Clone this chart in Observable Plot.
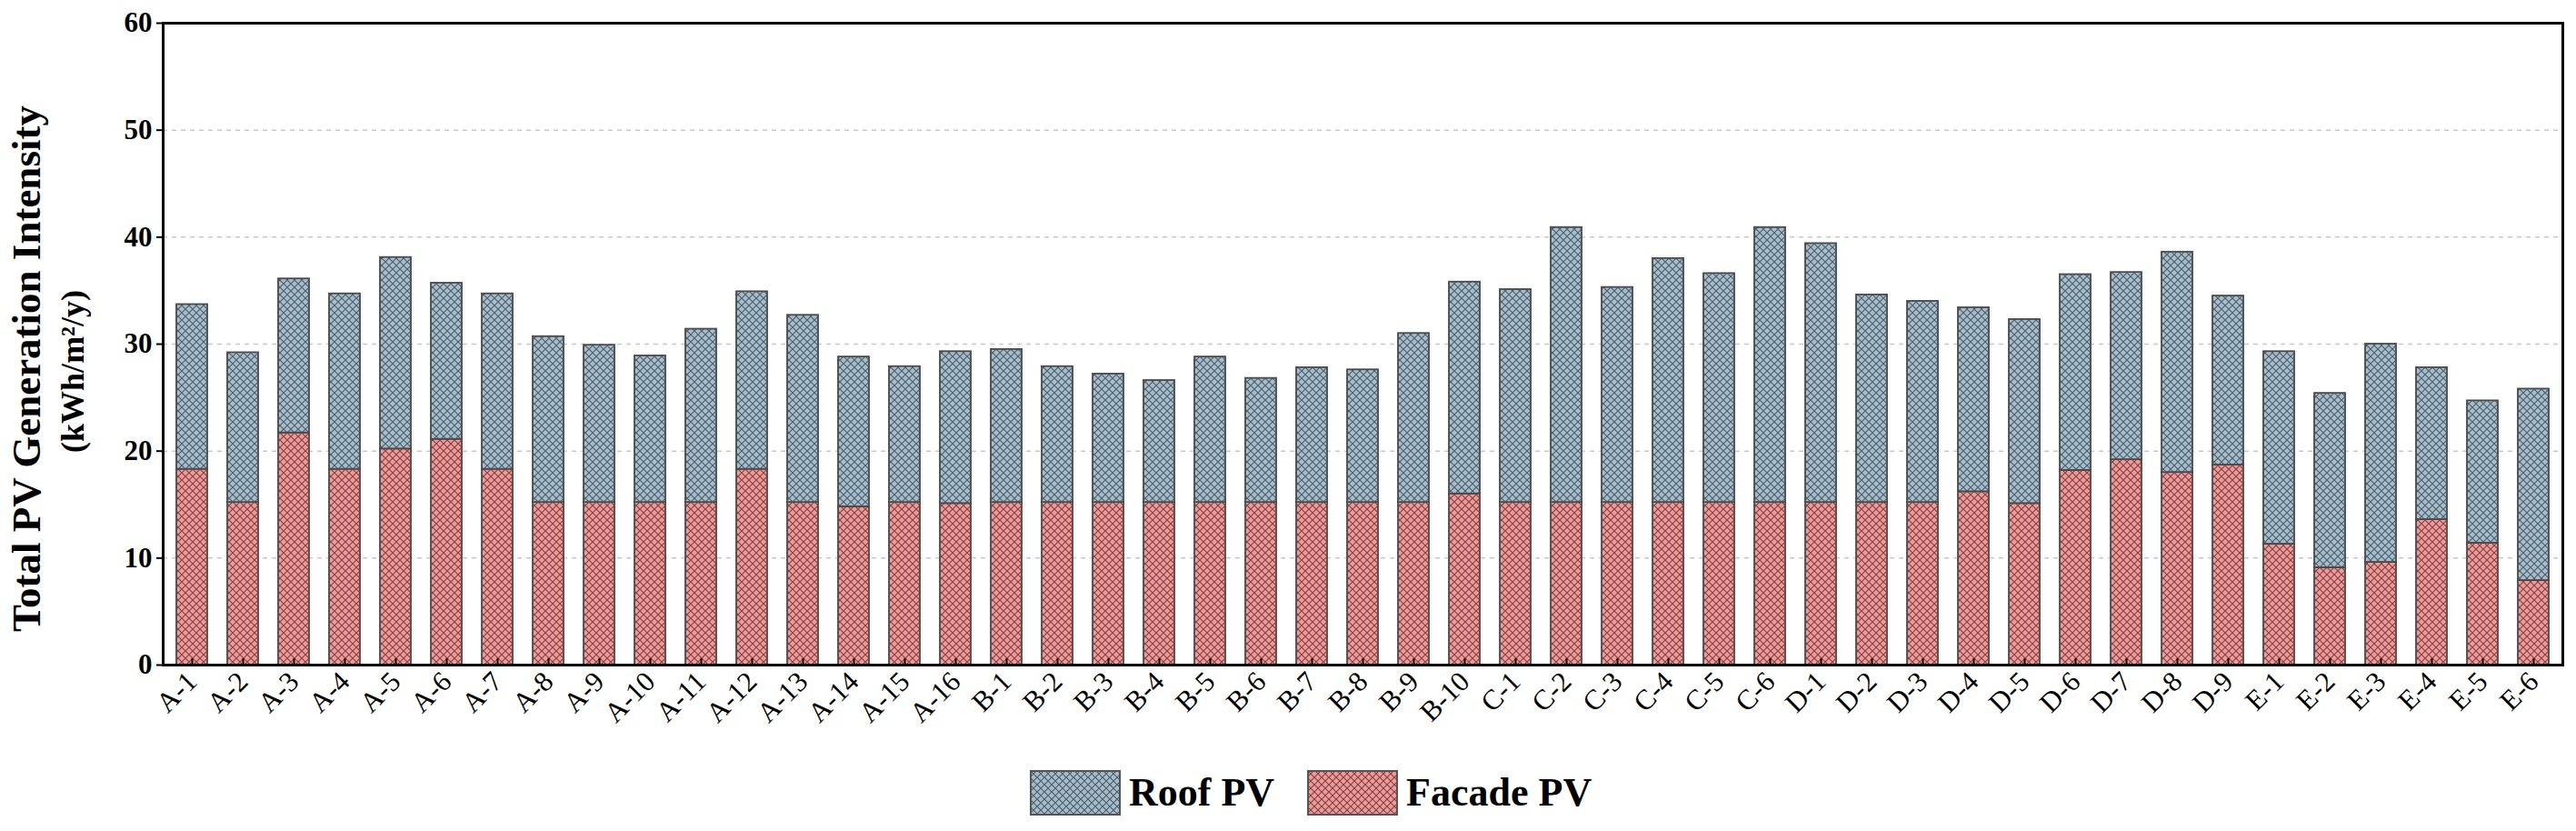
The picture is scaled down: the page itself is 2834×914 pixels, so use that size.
<!DOCTYPE html>
<html>
<head>
<meta charset="utf-8">
<script src="https://cdn.jsdelivr.net/npm/d3@7"></script>
<script src="https://cdn.jsdelivr.net/npm/@observablehq/plot@0.6"></script>
<style>
  body { margin: 0; background: #fff; font-family: "Liberation Serif", "Times New Roman", serif; }
  #wrap { position: relative; width: 2834px; height: 914px; background: #fff; }
  #chart { position: absolute; left: 0; top: 0; }
  #legend { position: absolute; left: 1133px; top: 847px; display: flex; align-items: center;
            font-weight: bold; font-size: 44px; color: #000; line-height: 1; }
  #legend .item { display: flex; align-items: center; margin-right: 36px; }
  #legend svg { margin-right: 9px; display: block; }
</style>
</head>
<body>
<svg width="0" height="0" style="position:absolute">
  <defs>
    <pattern id="roofHatch" patternUnits="userSpaceOnUse" width="8" height="8">
      <rect width="8" height="8" fill="#a6bdcc"></rect>
      <path d="M0,0L8,8M8,0L0,8" stroke="#4f5f6b" stroke-width="1.2"></path>
    </pattern>
    <pattern id="facadeHatch" patternUnits="userSpaceOnUse" width="8" height="8">
      <rect width="8" height="8" fill="#f29a9a"></rect>
      <path d="M0,0L8,8M8,0L0,8" stroke="#7f4646" stroke-width="1.2"></path>
    </pattern>
  </defs>
</svg>
<div id="wrap">
  <div id="chart"></div>
  <div id="legend"></div>
</div>
<script>
const categories = [
  "A-1","A-2","A-3","A-4","A-5","A-6","A-7","A-8","A-9","A-10","A-11","A-12","A-13","A-14","A-15","A-16",
  "B-1","B-2","B-3","B-4","B-5","B-6","B-7","B-8","B-9","B-10",
  "C-1","C-2","C-3","C-4","C-5","C-6",
  "D-1","D-2","D-3","D-4","D-5","D-6","D-7","D-8","D-9",
  "E-1","E-2","E-3","E-4","E-5","E-6"
];
const facadePV = [
  18.3,15.2,21.7,18.3,20.2,21.1,18.3,15.2,15.2,15.2,15.2,18.3,15.2,14.8,15.2,15.1,
  15.2,15.2,15.2,15.2,15.2,15.2,15.2,15.2,15.2,16.0,
  15.2,15.2,15.2,15.2,15.2,15.2,
  15.2,15.2,15.2,16.2,15.1,18.2,19.2,18.0,18.7,
  11.3,9.1,9.6,13.6,11.4,7.9
];
const roofPV = [
  15.4,14.0,14.4,16.4,17.9,14.6,16.4,15.5,14.7,13.7,16.2,16.6,17.5,14.0,12.7,14.2,
  14.3,12.7,12.0,11.4,13.6,11.6,12.6,12.4,15.8,19.8,
  19.9,25.7,20.1,22.8,21.4,25.7,
  24.2,19.4,18.8,17.2,17.2,18.3,17.5,20.6,15.8,
  18.0,16.3,20.4,14.2,13.3,17.9
];
const seriesNames = ["Roof PV", "Facade PV"];
const seriesFills = ["url(#roofHatch)", "url(#facadeHatch)"];
const yTicks = [0, 10, 20, 30, 40, 50, 60];
const gridTicks = [10, 20, 30, 40, 50];
const yTitle = "Total PV Generation Intensity";
const yUnit = "(kWh/m\u00B2/y)";

// facade rows first so they stack at the bottom
const rows = [];
categories.forEach((c, i) => rows.push({cat: c, series: "Facade PV", value: facadePV[i]}));
categories.forEach((c, i) => rows.push({cat: c, series: "Roof PV", value: roofPV[i]}));

const font = "Liberation Serif";
const chart = Plot.plot({
  width: 2834,
  height: 830,
  marginLeft: 179,
  marginRight: 15,
  marginTop: 25,
  marginBottom: 99,
  x: {domain: categories, paddingInner: 0.4, paddingOuter: 0.2, label: null},
  y: {domain: [0, 60], label: null},
  color: {domain: seriesNames, range: seriesFills},
  style: {fontFamily: font, color: "black", background: "white", overflow: "visible"},
  marks: [
    Plot.ruleY(gridTicks, {stroke: "#c8c8c8", strokeWidth: 1.5, strokeDasharray: "5,5"}),
    Plot.barY(rows, Plot.stackY({x: "cat", y: "value", fill: "series", stroke: "#4a4a4a", strokeWidth: 1.8})),
    Plot.ruleX(categories, {x: d => d, y1: 0, y2: 0.6, stroke: "black", strokeWidth: 2}),
    Plot.axisX({tickSize: 0, tickPadding: 13, tickRotate: -45, fontSize: 31, fontFamily: font}),
    Plot.axisY({ticks: yTicks, tickSize: 7, tickPadding: 5, fontSize: 31, fontWeight: "bold", strokeWidth: 2, fontFamily: font}),
    Plot.frame({stroke: "black", strokeWidth: 3}),
    Plot.text([yTitle], {text: d => d, frameAnchor: "left", textAnchor: "middle", dx: -150, dy: 27, rotate: -90,
      fontSize: 45, fontWeight: "bold", fontFamily: font, fill: "black"}),
    Plot.text([yUnit], {text: d => d, frameAnchor: "left", textAnchor: "middle", dx: -99, dy: 30, rotate: -90,
      fontSize: 36, fontWeight: "bold", fontFamily: font, fill: "black"})
  ]
});
document.getElementById("chart").appendChild(chart);

// legend
const legend = document.getElementById("legend");
seriesNames.forEach((name, i) => {
  const item = document.createElement("div");
  item.className = "item";
  item.innerHTML = `<svg width="100" height="50"><rect x="1" y="1" width="98" height="48" fill="${seriesFills[i]}" stroke="#555" stroke-width="2"></rect></svg><span>${name}</span>`;
  legend.appendChild(item);
});
</script>
</body>
</html>
